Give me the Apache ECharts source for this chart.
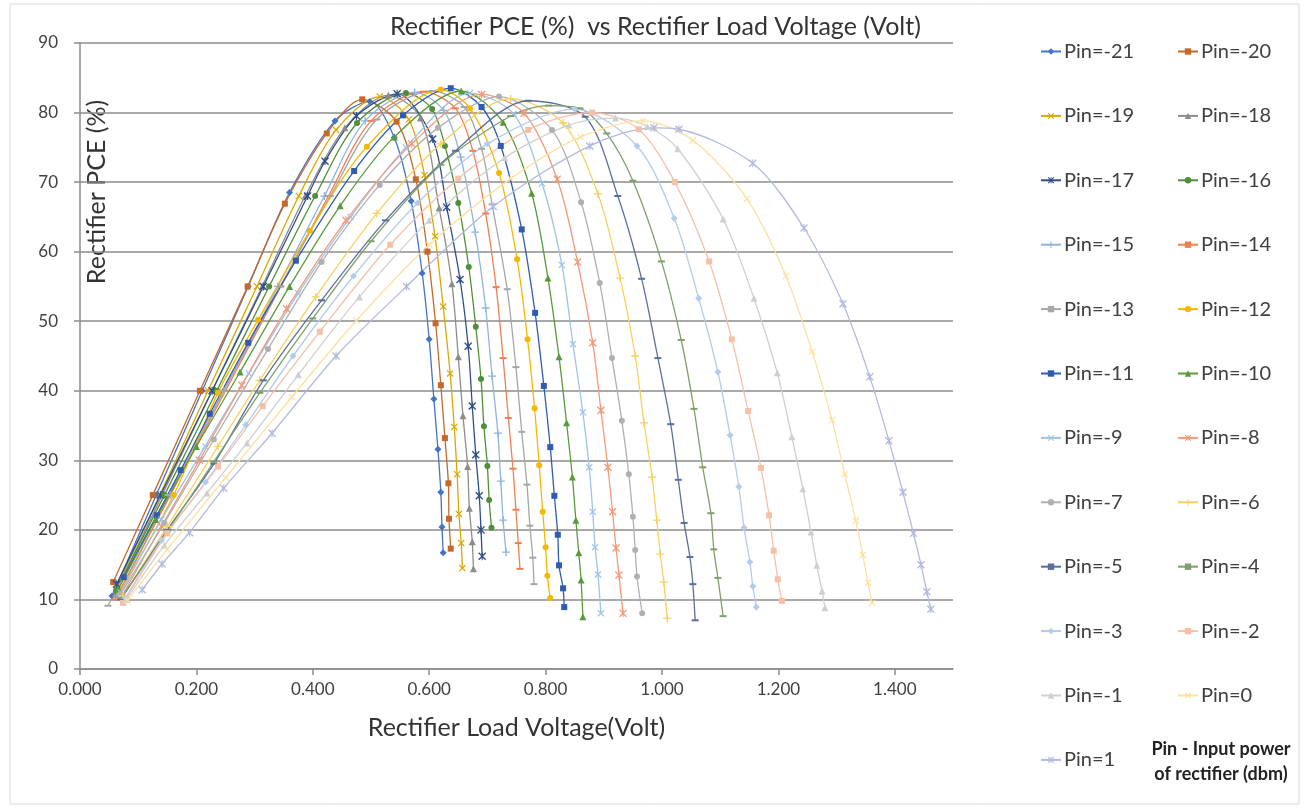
<!DOCTYPE html>
<html>
<head>
    <meta charset="utf-8">
    <style type="text/css">
        *, html, body { margin: 0; padding: 0; }
        html, body, #container { width: 1309px; height: 809px; background: #fff; }
    </style>
    <script type="text/javascript" src="https://cdn.jsdelivr.net/npm/echarts@6/dist/echarts.min.js"></script>
</head>
<body>
<div id="container"></div>
<script type="text/javascript">
    // values: [load voltage (V), PCE (%)]
    const pinLevels = [-21, -20, -19, -18, -17, -16, -15, -14, -13, -12, -11, -10, -9, -8, -7, -6, -5, -4, -3, -2, -1, 0, 1];

    const pM21 = [[0.055,10.5],[0.131,25],[0.210,40],[0.289,55],[0.360,68.5],[0.438,78.8],[0.498,81.6],[0.540,76.4],[0.569,67.3],[0.588,56.9],[0.600,47.4],[0.608,38.8],[0.615,31.6],[0.620,25.4],[0.622,20.4],[0.624,16.7]];
    const pM20 = [[0.057,12.5],[0.125,25],[0.206,40],[0.288,55],[0.352,66.9],[0.424,77.0],[0.485,81.9],[0.544,78.7],[0.577,70.4],[0.597,60.0],[0.611,49.7],[0.620,40.8],[0.627,33.2],[0.633,26.7],[0.634,21.6],[0.637,17.3]];
    const pM19 = [[0.062,11.5],[0.137,25],[0.220,40],[0.304,55],[0.376,68],[0.440,77.5],[0.515,82.3],[0.565,79.0],[0.592,71.0],[0.610,62.2],[0.624,52.1],[0.636,42.5],[0.643,34.8],[0.648,28.0],[0.651,22.3],[0.655,18.1],[0.657,14.5]];
    const pM18 = [[0.060,10.8],[0.141,25],[0.227,40],[0.313,55],[0.387,68],[0.455,77.8],[0.530,82.5],[0.585,79.2],[0.617,66.3],[0.639,55.4],[0.650,44.9],[0.658,36.4],[0.666,29.1],[0.669,23.1],[0.674,18.3],[0.676,14.4]];
    const pM17 = [[0.063,12.2],[0.138,25],[0.227,40],[0.315,55],[0.391,68],[0.421,73.0],[0.475,79.5],[0.545,82.7],[0.606,76.2],[0.630,66.4],[0.653,56.0],[0.667,46.4],[0.674,37.8],[0.680,30.8],[0.686,24.9],[0.689,20.0],[0.691,16.2]];
    const pM16 = [[0.062,11.3],[0.145,25],[0.235,40],[0.325,55],[0.404,68],[0.476,78.5],[0.560,82.8],[0.605,80.5],[0.627,75.2],[0.650,67.0],[0.668,57.8],[0.680,49.2],[0.689,41.7],[0.694,34.9],[0.700,29.2],[0.703,24.3],[0.707,20.3]];
    const pM15 = [[0.065,10.5],[0.155,25],[0.247,40],[0.340,55],[0.420,68],[0.490,78.8],[0.575,82.9],[0.625,80.3],[0.654,73.6],[0.679,62.8],[0.697,51.9],[0.708,42.1],[0.718,33.9],[0.723,27.0],[0.727,21.4],[0.732,16.8]];
    const pM14 = [[0.060,10.0],[0.155,25],[0.250,40],[0.345,55],[0.427,68],[0.500,78.8],[0.590,83.0],[0.645,80.6],[0.675,74.5],[0.697,65.5],[0.715,54.9],[0.727,44.7],[0.736,36.1],[0.744,28.8],[0.749,22.9],[0.753,18.1],[0.756,14.4]];
    const pM13 = [[0.048,9.1],[0.151,25],[0.247,40],[0.344,55],[0.430,68],[0.510,79.0],[0.605,83.1],[0.660,80.8],[0.690,74.8],[0.708,66.8],[0.734,54.6],[0.749,43.4],[0.759,34.1],[0.768,26.5],[0.773,20.6],[0.778,16.0],[0.780,12.2]];
    const pM12 = [[0.068,11.0],[0.161,25],[0.237,39.7],[0.306,50.2],[0.395,63.0],[0.493,75.1],[0.620,83.3],[0.670,80.6],[0.720,71.3],[0.751,58.9],[0.769,47.4],[0.781,37.5],[0.789,29.3],[0.795,22.6],[0.800,17.5],[0.803,13.4],[0.808,10.2]];
    const pM11 = [[0.075,13.2],[0.132,22.1],[0.173,28.6],[0.223,36.7],[0.289,46.9],[0.371,58.7],[0.471,71.6],[0.555,79.6],[0.637,83.5],[0.690,80.8],[0.723,75.2],[0.759,63.2],[0.782,51.2],[0.797,40.7],[0.808,31.9],[0.815,24.9],[0.821,19.3],[0.823,14.9],[0.830,11.6],[0.832,8.9]];
    const pM10 = [[0.066,11.5],[0.130,21.5],[0.200,32.0],[0.275,42.7],[0.360,55.0],[0.447,66.6],[0.540,76.5],[0.655,83.1],[0.727,78.6],[0.776,68.4],[0.804,56.2],[0.823,44.9],[0.836,35.4],[0.846,27.6],[0.852,21.4],[0.857,16.7],[0.861,12.8],[0.864,7.5]];
    const pM9 = [[0.070,11.0],[0.140,21.5],[0.215,32.0],[0.290,42.5],[0.375,54.0],[0.465,65.0],[0.560,75.0],[0.670,82.8],[0.745,79.8],[0.794,69.8],[0.828,58.1],[0.847,46.7],[0.864,36.9],[0.875,29.0],[0.881,22.6],[0.885,17.5],[0.890,13.6],[0.895,8.0]];
    const pM8 = [[0.072,10.5],[0.140,20.5],[0.205,30.0],[0.278,40.8],[0.355,51.8],[0.457,64.5],[0.570,75.5],[0.690,82.6],[0.763,79.9],[0.820,70.4],[0.855,58.5],[0.881,46.9],[0.895,37.2],[0.907,29.0],[0.915,22.6],[0.921,17.4],[0.926,13.5],[0.933,8.0]];
    const pM7 = [[0.070,10.8],[0.145,21.0],[0.230,33.0],[0.323,46.0],[0.415,58.5],[0.515,69.6],[0.615,77.8],[0.720,82.3],[0.811,77.5],[0.861,67.1],[0.893,55.5],[0.914,44.7],[0.931,35.7],[0.943,28.0],[0.950,21.9],[0.954,17.1],[0.957,13.3],[0.966,8.0]];
    const pM6 = [[0.074,10.5],[0.150,20.5],[0.237,32.0],[0.309,41.5],[0.405,53.5],[0.510,65.5],[0.620,75.5],[0.740,82.0],[0.830,78.5],[0.890,68.3],[0.928,56.2],[0.954,45.0],[0.969,35.4],[0.983,27.6],[0.991,21.4],[0.997,16.5],[1.003,12.5],[1.009,7.3]];
    const pM5 = [[0.070,10.0],[0.150,20.0],[0.230,29.5],[0.315,41.5],[0.415,53.0],[0.525,64.5],[0.645,74.5],[0.770,81.7],[0.868,79.4],[0.924,68.0],[0.965,56.1],[0.993,44.7],[1.015,35.2],[1.028,27.2],[1.038,21.0],[1.048,16.1],[1.053,12.2],[1.057,7.0]];
    const pM4 = [[0.070,10.2],[0.150,19.8],[0.230,29.8],[0.309,39.7],[0.400,50.4],[0.500,61.5],[0.620,72.5],[0.740,79.5],[0.805,81.0],[0.859,80.6],[0.905,77.0],[0.950,70.2],[0.999,58.6],[1.033,47.3],[1.055,37.4],[1.070,29.0],[1.084,22.4],[1.089,17.2],[1.096,13.1],[1.105,7.6]];
    const pM3 = [[0.078,10.2],[0.140,18.5],[0.216,26.9],[0.285,35.1],[0.366,45.0],[0.470,56.5],[0.580,67.0],[0.700,75.5],[0.850,80.5],[0.957,75.2],[1.021,64.8],[1.063,53.3],[1.096,42.7],[1.117,33.6],[1.132,26.2],[1.141,20.3],[1.151,15.4],[1.156,11.9],[1.162,8.9]];
    const pM2 = [[0.074,9.5],[0.150,19.5],[0.237,29.1],[0.314,37.8],[0.412,48.5],[0.533,61.0],[0.650,70.5],[0.770,77.5],[0.880,80.0],[0.960,77.6],[1.022,70.0],[1.081,58.6],[1.120,47.4],[1.148,37.1],[1.170,28.9],[1.184,22.1],[1.192,17.0],[1.199,12.9],[1.206,9.8]];
    const pM1 = [[0.080,10.0],[0.145,17.8],[0.218,25.3],[0.287,32.5],[0.375,42.3],[0.480,53.5],[0.600,64.5],[0.730,73.5],[0.840,78.2],[0.920,79.2],[0.975,78.0],[1.027,74.8],[1.105,64.7],[1.158,53.3],[1.198,42.6],[1.223,33.4],[1.242,25.9],[1.256,19.7],[1.266,14.9],[1.275,11.2],[1.280,8.8]];
    const p0 = [[0.082,9.9],[0.150,17.2],[0.250,27.5],[0.364,39.1],[0.475,50.1],[0.600,61.0],[0.740,70.5],[0.860,76.5],[0.967,78.8],[1.053,76.0],[1.146,67.6],[1.213,56.5],[1.258,45.6],[1.292,35.8],[1.314,28.0],[1.333,21.3],[1.345,16.4],[1.354,12.4],[1.361,9.5]];
    const p1 = [[0.107,11.4],[0.141,15.1],[0.188,19.6],[0.247,26.0],[0.330,33.9],[0.440,45.0],[0.561,55.0],[0.710,66.5],[0.876,75.2],[0.986,77.8],[1.029,77.6],[1.156,72.7],[1.244,63.4],[1.311,52.5],[1.357,42.0],[1.390,32.8],[1.414,25.4],[1.432,19.5],[1.445,15.0],[1.455,11.1],[1.462,8.6]];

    const seriesValues = [pM21, pM20, pM19, pM18, pM17, pM16, pM15, pM14, pM13, pM12, pM11, pM10,
        pM9, pM8, pM7, pM6, pM5, pM4, pM3, pM2, pM1, p0, p1];

    // styles
    const colors = ['#4472c4', '#c5692a', '#d9a800', '#8c8c8c', '#2e4d8a', '#4f8f3a', '#8fb4de', '#ef7f50',
        '#a6a6a6', '#f5b800', '#2f5cb0', '#5a9a3c', '#9dc3e6', '#f29a7a', '#b0b0b0', '#f8d060',
        '#5b6f9e', '#7fa06a', '#b4cbea', '#f5c0a8', '#cfcfcf', '#fbe0a0', '#b2badf'];
    const X_PATH = 'path://M0,1.2L1.2,0L5,3.8L8.8,0L10,1.2L6.2,5L10,8.8L8.8,10L5,6.2L1.2,10L0,8.8L3.8,5Z';
    const STAR_PATH = X_PATH + 'M4.35,0H5.65V10H4.35Z';
    const PLUS_PATH = 'path://M4.2,0H5.8V4.2H10V5.8H5.8V10H4.2V5.8H0V4.2H4.2Z';
    const shapes = ['diamond', 'rect', 'x', 'triangle', 'star', 'circle', 'plus', 'dash', 'dash', 'circle', 'rect', 'triangle',
        'x', 'star', 'circle', 'plus', 'dash', 'dash', 'diamond', 'rect', 'triangle', 'x', 'star'];

    function symbolOf(s) {
        if (s === 'x') return [X_PATH, 7];
        if (s === 'star') return [STAR_PATH, 8];
        if (s === 'plus') return [PLUS_PATH, 8];
        if (s === 'dash') return ['rect', [7, 2]];
        if (s === 'rect') return ['rect', 6];
        if (s === 'circle') return ['circle', 6];
        return [s, 7];
    }

    const names = pinLevels.map(function (p) { return 'Pin=' + p; });
    const leftNames = names.filter(function (n, i) { return i % 2 === 0; });
    const rightNames = names.filter(function (n, i) { return i % 2 === 1; });

    const series = seriesValues.map(function (vals, i) {
        const sym = symbolOf(shapes[i]);
        return {
            name: names[i],
            type: 'line',
            data: vals,
            smooth: 0.3,
            symbol: sym[0],
            symbolSize: sym[1],
            color: colors[i],
            lineStyle: { width: 1.3, color: colors[i] },
            itemStyle: { color: colors[i] },
            emphasis: { disabled: true }
        };
    });

    const labelText = { fontFamily: 'Lato', fontSize: 17, color: '#404040' };
    const legendBase = {
        orient: 'vertical', top: 41, padding: 0, itemGap: 43.4, itemWidth: 20, itemHeight: 8,
        textStyle: { fontFamily: 'Lato', fontSize: 20, lineHeight: 21, color: '#404040', padding: [0, 0, 0, -2] },
        selectedMode: false
    };

    const myChart = echarts.init(document.getElementById('container'));
    myChart.setOption({
        animation: false,
        backgroundColor: '#fff',
        title: {
            text: 'Rectifier PCE (%)  vs Rectifier Load Voltage (Volt)',
            left: 390, top: 14, padding: 0,
            textStyle: { fontFamily: 'Lato', fontSize: 25, fontWeight: 'normal', color: '#333' }
        },
        legend: [
            Object.assign({}, legendBase, { data: leftNames, left: 1040 }),
            Object.assign({}, legendBase, { data: rightNames, left: 1177 })
        ],
        grid: { left: 80, top: 43, right: 356, bottom: 140, containLabel: false },
        xAxis: {
            type: 'value', min: 0, max: 1.5, interval: 0.2,
            name: 'Rectifier Load Voltage(Volt)', nameLocation: 'middle', nameGap: 46,
            nameTextStyle: { fontFamily: 'Lato', fontSize: 25, color: '#333' },
            axisLine: { show: true, lineStyle: { color: '#8c8c8c', width: 1.5 } },
            axisTick: { show: true, inside: false, length: 6, lineStyle: { color: '#8c8c8c', width: 1.5 } },
            splitLine: { show: false },
            axisLabel: Object.assign({ margin: 12, showMaxLabel: false, formatter: function (v) { return v.toFixed(3); } }, labelText)
        },
        yAxis: {
            type: 'value', min: 0, max: 90, interval: 10,
            axisLine: { show: true, lineStyle: { color: '#8c8c8c', width: 1.5 } },
            axisTick: { show: true, inside: false, length: 6, lineStyle: { color: '#8c8c8c', width: 1.5 } },
            splitLine: { show: true, lineStyle: { color: '#8c8c8c', width: 1.5 } },
            axisLabel: Object.assign({ margin: 22 }, labelText)
        },
        graphic: [
            {
                type: 'rect', silent: true, z: -1,
                shape: { x: 10, y: 4, width: 1289, height: 800 },
                style: { fill: 'none', stroke: '#d9d9d9', lineWidth: 1 }
            },
            {
                type: 'text', silent: true, x: 97, y: 192, rotation: Math.PI / 2,
                style: { text: 'Rectifier PCE (%)', fontFamily: 'Lato', fontSize: 25, fill: '#333', align: 'center', verticalAlign: 'middle' }
            },
            {
                type: 'text', silent: true, x: 1221, y: 762,
                style: {
                    text: 'Pin - Input power\nof rectifier (dbm)', fontFamily: 'Lato', fontSize: 18, fontWeight: 'bold',
                    lineHeight: 25, fill: '#222', align: 'center', verticalAlign: 'middle'
                }
            }
        ],
        series: series
    });
</script>
</body>
</html>
